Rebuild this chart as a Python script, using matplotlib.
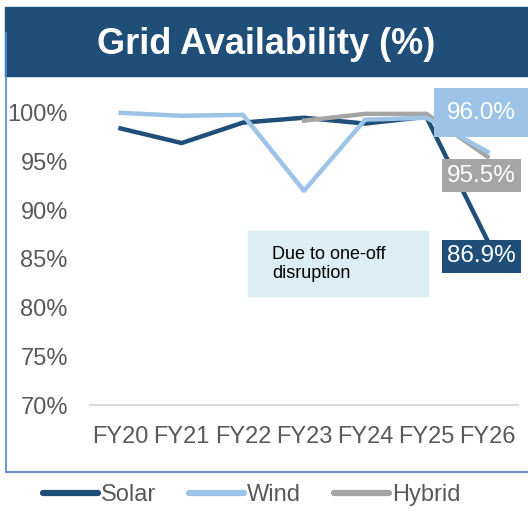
import matplotlib
matplotlib.use('Agg')
import matplotlib.pyplot as plt
from matplotlib.patches import Rectangle
from matplotlib.lines import Line2D

plt.rcParams['font.family'] = ['Liberation Sans', 'DejaVu Sans']

years = ['FY20', 'FY21', 'FY22', 'FY23', 'FY24', 'FY25', 'FY26']
solar = [98.4, 96.9, 99.0, 99.5, 98.9, 99.6, 86.9]
wind = [100.0, 99.7, 99.8, 92.0, 99.3, 99.5, 96.0]
hybrid = [None, None, None, 99.2, 99.9, 99.9, 95.5]
y_ticks = [70, 75, 80, 85, 90, 95, 100]

SOLAR_C = '#1F4E79'
WIND_C = '#9DC3E6'
HYBRID_C = '#A5A5A5'
TEXT_C = '#595959'

W, H = 528, 515
fig = plt.figure(figsize=(W / 100, H / 100), dpi=100)

# title bar
fig.patches.append(Rectangle((5 / W, 1 - 76 / H), 1 - 5 / W, 69 / H,
                             transform=fig.transFigure, color=SOLAR_C, zorder=0))
fig.text(266 / W, 1 - 44 / H, 'Grid Availability (%)', color='white',
         fontsize=26, fontweight='bold', ha='center', va='center')

# frame lines round the chart
fig.add_artist(Line2D([5.5 / W, 5.5 / W], [1 - 33 / H, 1 - 472 / H],
                      transform=fig.transFigure, color='#4A8BD0', lw=1.2))
fig.add_artist(Line2D([5.5 / W, 1], [1 - 472 / H, 1 - 472 / H],
                      transform=fig.transFigure, color='#6F8FD0', lw=1.5))

ax = fig.add_axes([90 / W, 1 - 405 / H, 428 / W, (405 - 108) / H])
x = list(range(len(years)))

ax.plot(x, solar, color=SOLAR_C, lw=3.2, zorder=2, clip_on=False, label='Solar')
hx = [i for i, v in zip(x, hybrid) if v is not None]
hv = [v for v in hybrid if v is not None]
ax.plot(hx, hv, color=HYBRID_C, lw=3.2, zorder=3, clip_on=False, label='Hybrid')
ax.plot(x, wind, color=WIND_C, lw=3.2, zorder=4, clip_on=False, label='Wind')

ax.set_xlim(-0.5, len(years) - 0.5)
ax.set_ylim(70, 100.5)
ax.set_yticks(y_ticks)
ax.set_yticklabels([f'{t}%' for t in y_ticks])
ax.set_xticks(x)
ax.set_xticklabels(years)
ax.tick_params(axis='y', length=0, pad=16, labelsize=17, labelcolor=TEXT_C)
ax.tick_params(axis='x', length=0, pad=15, labelsize=17, labelcolor=TEXT_C)
for s in ['top', 'right', 'left']:
    ax.spines[s].set_visible(False)
ax.spines['bottom'].set_color('#D9D9D9')
ax.spines['bottom'].set_linewidth(1.5)

# end labels
last = len(years) - 1
end_labels = [
    (wind[-1], WIND_C, 39, 0.55),
    (hybrid[-1], HYBRID_C, -19, 0.22),
    (solar[-1], SOLAR_C, -16, 0.22),
]
for val, col, dy, pad in end_labels:
    ax.annotate(f'{val:.1f}%', xy=(last, val), xytext=(-6, dy),
                textcoords='offset pixels', ha='center', va='center',
                fontsize=17.5, color='white', zorder=6, annotation_clip=False,
                bbox=dict(boxstyle=f'square,pad={pad}', fc=col, ec='none'))

# note box
fig.patches.append(Rectangle((248 / W, 1 - 296 / H), 180 / W, 65 / H,
                             transform=fig.transFigure, color='#DAEEF3', zorder=1))
fig.text(272 / W, 1 - 264 / H, 'Due to one-off\ndisruption', fontsize=13,
         color='black', ha='left', va='center', linespacing=1.2)

handles = [Line2D([], [], color=SOLAR_C, lw=4.5, solid_capstyle='round'),
           Line2D([], [], color=WIND_C, lw=4.5, solid_capstyle='round'),
           Line2D([], [], color=HYBRID_C, lw=4.5, solid_capstyle='round')]
leg = fig.legend(handles, ['Solar', 'Wind', 'Hybrid'], loc='center',
                 bbox_to_anchor=(252 / W, 1 - 495 / H), ncol=3, frameon=False,
                 fontsize=17, handlelength=2.3, handletextpad=0.15,
                 columnspacing=1.4)
for t in leg.get_texts():
    t.set_color(TEXT_C)

fig.savefig('out.png', dpi=100)
